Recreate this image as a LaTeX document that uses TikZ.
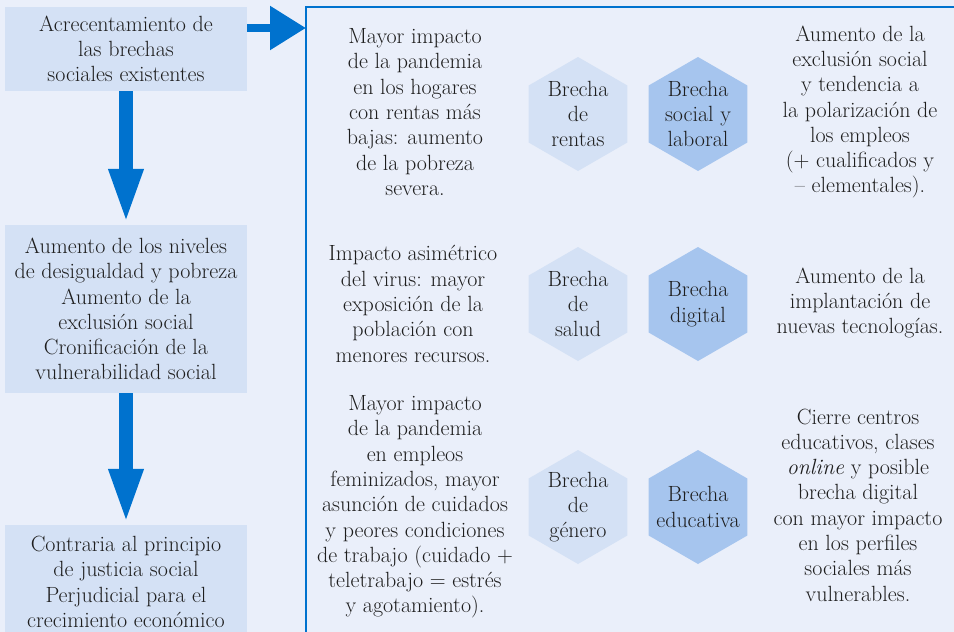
\documentclass[tikz,border=0pt]{standalone}
\usepackage{tikz}
\usetikzlibrary{shapes.geometric}
\usetikzlibrary{arrows.meta}

\definecolor{fondo}{RGB}{234,239,250}
\definecolor{caja}{RGB}{212,225,245}
\definecolor{hexoscuro}{RGB}{166,197,238}
\definecolor{azul}{RGB}{0,114,206}
\definecolor{texto}{RGB}{30,30,30}

\tikzset{
  txt/.style={font=\fontsize{22}{25.3}\selectfont, text=texto, align=center, inner sep=0pt},
  caja/.style={txt, fill=caja, minimum width=242pt},
  hexclaro/.style={regular polygon, regular polygon sides=6, shape border rotate=30,
    inner sep=0pt, minimum size=114pt, fill=caja},
  hexfuerte/.style={hexclaro, fill=hexoscuro},
  flechav/.style={azul, line width=14pt, -{Triangle[width=31pt,length=56pt]}},
  flechah/.style={azul, line width=8.5pt, -{Triangle[width=42pt,length=36pt]}}
}

\begin{document}
\begin{tikzpicture}[x=1pt,y=-1pt]
\clip (0,0) rectangle (954,632);
\fill[fondo] (0,0) rectangle (954,632);

\node[caja, minimum height=84pt] (causa) at (126,49) {Acrecentamiento de\\las brechas\\sociales existentes};
\node[caja, minimum height=168pt] (efecto) at (126,309) {Aumento de los niveles\\de desigualdad y pobreza\\Aumento de la\\exclusión social\\Cronificación de la\\vulnerabilidad social};
\node[caja, minimum height=114pt] (consec) at (126,582) {Contraria al principio\\de justicia social\\Perjudicial para el\\crecimiento económico};

\draw[azul, line width=2pt] (306,7) rectangle (980,660);
\coordinate (marco) at (306,28);

\draw[flechav] (causa.south) -- (efecto.north);
\draw[flechav] (efecto.south) -- (consec.north);
\draw[flechah] (causa.east |- marco) -- (marco);

\node[txt] (impacto1) at (415,112) {Mayor impacto\\de la pandemia\\en los hogares\\con rentas más\\bajas: aumento\\de la pobreza\\severa.};
\node[hexclaro, label={[txt]center:{Brecha\\de\\rentas}}] (rentas) at (578,114) {};
\node[hexfuerte, label={[txt]center:{Brecha\\social y\\laboral}}] (laboral) at (698,114) {};
\node[txt] (efecto1) at (860,112) {Aumento de la\\exclusión social\\y tendencia a\\la polarización de\\los empleos\\(+ cualificados y\\– elementales).};

\node[txt] (impacto2) at (413,304) {Impacto asimétrico\\del virus: mayor\\exposición de la\\población con\\menores recursos.};
\node[hexclaro, label={[txt]center:{Brecha\\de\\salud}}] (salud) at (578,304) {};
\node[hexfuerte, label={[txt]center:{Brecha\\digital}}] (digital) at (698,304) {};
\node[txt] (efecto2) at (860,303) {Aumento de la\\implantación de\\nuevas tecnologías.};

\node[txt] (impacto3) at (415,507) {Mayor impacto\\de la pandemia\\en empleos\\feminizados, mayor\\asunción de cuidados\\y peores condiciones\\de trabajo (cuidado +\\teletrabajo = estrés\\y agotamiento).};
\node[hexclaro, label={[txt]center:{Brecha\\de\\género}}] (genero) at (578,507) {};
\node[hexfuerte, label={[txt]center:{Brecha\\educativa}}] (educa) at (698,507) {};
\node[txt] (efecto3) at (858,505) {Cierre centros\\educativos, clases\\\textit{online} y posible\\brecha digital\\con mayor impacto\\en los perfiles\\sociales más\\vulnerables.};
\end{tikzpicture}
\end{document}
